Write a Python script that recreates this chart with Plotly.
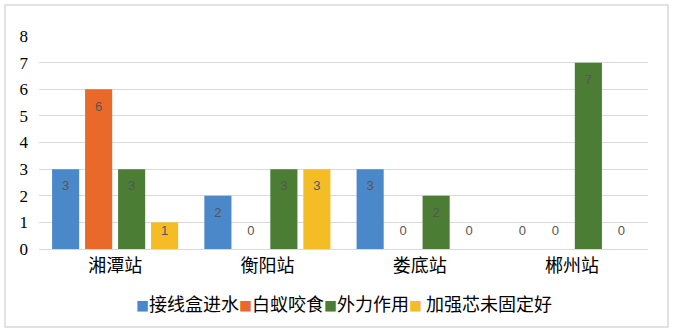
import plotly.graph_objects as go

# Fault causes per station
categories = ["湘潭站", "衡阳站", "娄底站", "郴州站"]
series_names = ["接线盒进水", "白蚁咬食", "外力作用", " 加强芯未固定好"]
water_ingress = [3, 2, 3, 0]
termite_damage = [6, 0, 0, 0]
external_force = [3, 3, 2, 7]
core_unfixed = [1, 3, 0, 0]
y_ticks = [0, 1, 2, 3, 4, 5, 6, 7, 8]

series_values = [water_ingress, termite_damage, external_force, core_unfixed]
colors = ["#4A88C9", "#E8692A", "#4B7D35", "#F4BD26"]

n_series = len(series_names)
pitch = 0.2167      # slot per series inside a category
bar_width = 0.178

fig = go.Figure()
for j, (name, vals, col) in enumerate(zip(series_names, series_values, colors)):
    xs = [i + (j - (n_series - 1) / 2) * pitch for i in range(len(categories))]
    fig.add_trace(go.Bar(
        x=xs, y=vals, width=bar_width, name=name.strip(),
        marker=dict(color=col, line=dict(width=0)),
        hoverinfo="skip", showlegend=False,
    ))
    # value labels: inside the top of the bar, or just above the axis for short bars
    fig.add_trace(go.Scatter(
        x=xs, y=[max(v - 0.68, 0.64) for v in vals],
        mode="text", text=[str(v) for v in vals],
        textfont=dict(family="Liberation Sans, Arial", size=13, color="#555555"),
        showlegend=False, hoverinfo="skip",
    ))

# compact key line: small coloured square directly before each series name
key_parts = []
for name, col in zip(series_names, colors):
    key_parts.append(
        f"<span style='color:{col};font-size:13px'>■</span>{name}"
    )
key_text = "".join(key_parts)

fig.update_layout(
    width=675, height=334,
    margin=dict(l=39, r=27, t=36, b=85),
    paper_bgcolor="white", plot_bgcolor="white",
    barmode="overlay",
    font=dict(family="Liberation Serif, Noto Sans CJK SC", color="#000000"),
    xaxis=dict(
        range=[-0.5, len(categories) - 0.5],
        tickvals=list(range(len(categories))), ticktext=categories,
        showgrid=False, zeroline=False, showline=False, ticks="",
        ticklabelstandoff=4,
        tickfont=dict(family="Liberation Serif, Noto Sans CJK SC", size=18),
    ),
    yaxis=dict(
        range=[0, 8], tickvals=y_ticks,
        showgrid=True, gridcolor="#D9D9D9", gridwidth=1,
        zeroline=True, zerolinecolor="#D9D9D9", zerolinewidth=1,
        showline=False, ticks="",
        ticklabelstandoff=10,
        tickfont=dict(family="Liberation Serif, Times New Roman", size=17),
    ),
    showlegend=False,
    annotations=[dict(
        text=key_text, xref="paper", yref="paper",
        x=0.5, y=-0.255, xanchor="center", yanchor="middle",
        showarrow=False,
        font=dict(family="Noto Sans CJK SC", size=18, color="#000000"),
    )],
    shapes=[dict(
        type="rect", xref="paper", yref="paper",
        x0=-0.0558, x1=1.0328, y0=-0.366, y1=1.1455,
        line=dict(color="#D9D9D9", width=1.5), fillcolor="rgba(0,0,0,0)",
        layer="below",
    )],
)

fig.write_html("out.html")
